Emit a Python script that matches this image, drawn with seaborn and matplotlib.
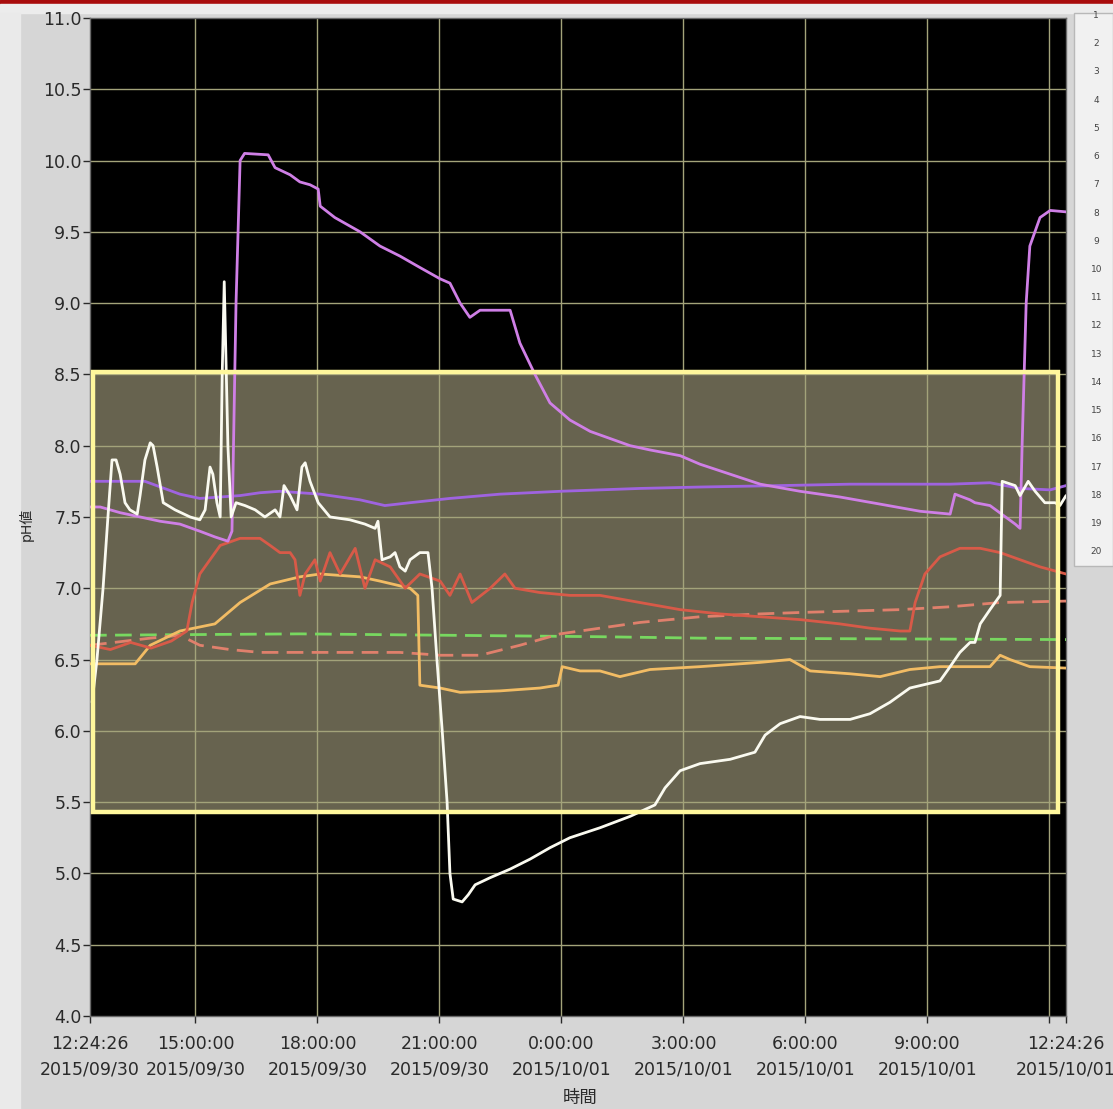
import pandas as pd
import numpy as np
import seaborn as sns
import matplotlib.pyplot as plt
import matplotlib.dates as mdates
from matplotlib.patches import Rectangle

sns.set_theme(style="ticks")
plt.rcParams['font.family'] = ['DejaVu Sans', 'Noto Sans CJK JP']

# Start of the recording, everything else is hours elapsed since then
start = pd.Timestamp("2015-09-30 12:24:26")

# Light violet probe (jumps to ~10)
lilac_h = [0, 0.25, 0.74, 1.23, 1.72, 2.21, 2.70, 3.07, 3.39, 3.49, 3.59, 3.69, 3.80, 4.38, 4.55, 4.92,
           5.16, 5.41, 5.61, 5.66, 6.02, 6.64, 7.13, 7.62, 8.11, 8.61, 8.85, 9.10, 9.34, 9.59, 10.33, 10.57,
           10.94, 11.31, 11.80, 12.30, 12.79, 13.28, 13.77, 14.51, 15.00, 15.74, 16.48, 17.46, 18.44, 19.43,
           20.41, 21.15, 21.27, 21.64, 21.76, 22.13, 22.75, 22.87, 22.92, 23.02, 23.11, 23.36, 23.61, 24.0]
lilac_ph = [7.57, 7.57, 7.53, 7.50, 7.47, 7.45, 7.40, 7.36, 7.33, 7.40, 9.00, 10.00, 10.05, 10.04, 9.95, 9.90,
            9.85, 9.83, 9.80, 9.68, 9.60, 9.50, 9.40, 9.33, 9.25, 9.17, 9.14, 9.00, 8.90, 8.95, 8.95, 8.72,
            8.50, 8.30, 8.18, 8.10, 8.05, 8.00, 7.97, 7.93, 7.87, 7.80, 7.73, 7.68, 7.64, 7.59,
            7.54, 7.52, 7.66, 7.62, 7.60, 7.58, 7.45, 7.42, 8.00, 9.00, 9.40, 9.60, 9.65, 9.64]

# Violet probe (flat around 7.7)
violet_h = [0, 1.35, 2.21, 2.70, 3.69, 4.18, 4.67, 5.66, 6.64, 7.25, 7.87, 8.85, 10.08, 11.56, 13.52,
            15.00, 16.97, 18.69, 21.15, 22.13, 22.87, 23.61, 24.0]
violet_ph = [7.75, 7.75, 7.66, 7.63, 7.65, 7.67, 7.68, 7.66, 7.62, 7.58, 7.60, 7.63, 7.66, 7.68, 7.70,
             7.71, 7.72, 7.73, 7.73, 7.74, 7.70, 7.69, 7.72]

# White probe
white_h = [0.05, 0.17, 0.32, 0.44, 0.54, 0.64, 0.74, 0.86, 0.98, 1.16, 1.23, 1.35, 1.48, 1.55, 1.65, 1.80,
           2.09, 2.46, 2.70, 2.83, 2.95, 3.02, 3.12, 3.20, 3.25, 3.30, 3.39, 3.47, 3.59, 3.81, 4.06, 4.30,
           4.55, 4.67, 4.77, 4.92, 5.09, 5.21, 5.29, 5.41, 5.61, 5.90, 6.39, 6.76, 7.01, 7.08, 7.18, 7.38,
           7.50, 7.62, 7.75, 7.87, 8.11, 8.31, 8.41, 8.53, 8.66, 8.78, 8.85, 8.93, 9.15, 9.30, 9.47, 9.84,
           10.33, 10.82, 11.31, 11.80, 12.54, 13.28, 13.89, 14.14, 14.51, 15.00, 15.74, 16.35, 16.60, 16.97,
           17.46, 17.95, 18.69, 19.18, 19.67, 20.16, 20.90, 21.15, 21.39, 21.64, 21.76, 21.89, 22.13, 22.38,
           22.43, 22.75, 22.87, 23.07, 23.24, 23.48, 23.73, 23.85, 24.0]
white_ph = [6.20, 6.50, 7.00, 7.50, 7.90, 7.90, 7.80, 7.60, 7.55, 7.52, 7.65, 7.90, 8.02, 8.00, 7.85, 7.60,
            7.55, 7.50, 7.48, 7.55, 7.85, 7.80, 7.60, 7.50, 8.50, 9.15, 8.00, 7.50, 7.60, 7.58, 7.55, 7.50,
            7.55, 7.50, 7.72, 7.65, 7.55, 7.85, 7.88, 7.75, 7.60, 7.50, 7.48, 7.45, 7.42, 7.47, 7.20, 7.22,
            7.25, 7.15, 7.12, 7.20, 7.25, 7.25, 7.00, 6.50, 6.00, 5.50, 5.00, 4.82, 4.80, 4.85, 4.92, 4.97,
            5.03, 5.10, 5.18, 5.25, 5.32, 5.40, 5.48, 5.60, 5.72, 5.77, 5.80, 5.85, 5.97, 6.05,
            6.10, 6.08, 6.08, 6.12, 6.20, 6.30, 6.35, 6.45, 6.55, 6.62, 6.62, 6.75, 6.85, 6.95,
            7.75, 7.72, 7.65, 7.75, 7.68, 7.60, 7.60, 7.58, 7.65]

# Red probe
red_h = [0, 0.5, 1.0, 1.5, 2.0, 2.38, 2.51, 2.70, 2.95, 3.20, 3.69, 4.18, 4.43, 4.67, 4.92, 5.04, 5.16,
         5.29, 5.53, 5.66, 5.90, 6.15, 6.52, 6.76, 7.01, 7.38, 7.75, 8.11, 8.61, 8.85, 9.10, 9.39, 9.84,
         10.20, 10.45, 11.06, 11.80, 12.54, 13.52, 14.51, 15.49, 16.48, 17.46, 18.44, 19.18, 19.92, 20.16,
         20.29, 20.53, 20.90, 21.39, 21.89, 22.38, 22.87, 23.36, 24.0]
red_ph = [6.60, 6.57, 6.62, 6.58, 6.63, 6.70, 6.90, 7.10, 7.20, 7.30, 7.35, 7.35, 7.30, 7.25, 7.25, 7.20, 6.95,
          7.10, 7.20, 7.05, 7.25, 7.10, 7.28, 7.00, 7.20, 7.15, 7.00, 7.10, 7.05, 6.95, 7.10, 6.90, 7.00,
          7.10, 7.00, 6.97, 6.95, 6.95, 6.90, 6.85, 6.82, 6.80, 6.78, 6.75, 6.72, 6.70, 6.70,
          6.90, 7.10, 7.22, 7.28, 7.28, 7.25, 7.20, 7.15, 7.10]

# Salmon probe (dashed)
salmon_h = [0, 1.48, 2.21, 2.70, 3.44, 4.18, 5.66, 7.62, 8.61, 9.59, 10.57, 11.56, 12.54, 13.52, 15.00,
            16.48, 17.46, 19.92, 21.15, 22.38, 24.0]
salmon_ph = [6.60, 6.65, 6.67, 6.60, 6.57, 6.55, 6.55, 6.55, 6.53, 6.53, 6.60, 6.68, 6.72, 6.76, 6.80,
             6.82, 6.83, 6.85, 6.87, 6.90, 6.91]

# Green probe (dashed)
green_h = [0, 5.16, 12.54, 15.00, 24.0]
green_ph = [6.67, 6.68, 6.66, 6.65, 6.64]

# Orange probe
orange_h = [0, 1.11, 1.48, 2.21, 3.07, 3.69, 4.43, 5.16, 5.66, 6.64, 7.13, 7.87, 8.06, 8.11, 8.61, 9.10,
            10.08, 11.06, 11.51, 11.61, 12.05, 12.54, 13.03, 13.77, 15.00, 16.48, 17.21, 17.71, 18.69,
            19.43, 20.16, 20.90, 22.13, 22.38, 22.62, 23.11, 24.0]
orange_ph = [6.47, 6.47, 6.60, 6.70, 6.75, 6.90, 7.03, 7.08, 7.10, 7.08, 7.05, 7.00, 6.95, 6.32, 6.30, 6.27,
             6.28, 6.30, 6.32, 6.45, 6.42, 6.42, 6.38, 6.43, 6.45, 6.48, 6.50, 6.42, 6.40,
             6.38, 6.43, 6.45, 6.45, 6.53, 6.50, 6.45, 6.44]

series = [
    (green_h, green_ph, "#78d860", (0, (6, 3))),
    (salmon_h, salmon_ph, "#e0806c", (0, (6, 3))),
    (orange_h, orange_ph, "#f2bc64", "-"),
    (red_h, red_ph, "#d85a48", "-"),
    (violet_h, violet_ph, "#9f63e0", "-"),
    (lilac_h, lilac_ph, "#cf7fe6", "-"),
    (white_h, white_ph, "#fafaf0", "-"),
]

# Highlighted band (yellow box)
box_h = (0.07, 23.80)
box_ph = (5.43, 8.52)

fig = plt.figure(figsize=(11.13, 11.09), dpi=100, facecolor="#d6d6d6")
ax = fig.add_axes([0.0809, 0.0839, 0.8769, 0.8999])
ax.set_facecolor("black")

# window decoration: red title strip, light left strip, channel list panel
deco = dict(transform=fig.transFigure, zorder=-1)
fig.patches.append(Rectangle((0, 0.996), 1, 0.004, color="#a80c0c", **deco))
fig.patches.append(Rectangle((0, 0.988), 1, 0.008, color="#ececec", **deco))
fig.patches.append(Rectangle((0, 0), 0.018, 0.988, color="#eaeaea", **deco))
fig.patches.append(Rectangle((0.965, 0.49), 0.035, 0.498, facecolor="#f1f1f1",
                             edgecolor="#b8b8b8", lw=1, **deco))
for i in range(20):
    fig.text(0.985, 0.986 - i * 0.02545, str(i + 1), fontsize=6.5, color="#444444",
             ha="center", va="center")

for h, ph, col, ls in series:
    t = start + pd.to_timedelta(h, unit="h")
    sns.lineplot(x=t, y=ph, color=col, linestyle=ls, linewidth=2.0, ax=ax, zorder=3)

x0 = mdates.date2num(start + pd.Timedelta(hours=box_h[0]))
x1 = mdates.date2num(start + pd.Timedelta(hours=box_h[1]))
ax.add_patch(Rectangle((x0, box_ph[0]), x1 - x0, box_ph[1] - box_ph[0],
                       facecolor="#67634f", edgecolor="none", zorder=0.2))
ax.add_patch(Rectangle((x0, box_ph[0]), x1 - x0, box_ph[1] - box_ph[0],
                       facecolor="none", edgecolor="#fff79c", lw=3.2, zorder=4))

# axes
end = start + pd.Timedelta(hours=24)
ax.set_xlim(mdates.date2num(start), mdates.date2num(end))
ax.set_ylim(4.0, 11.0)

grid_times = [start.ceil("3h") + pd.Timedelta(hours=3 * k) for k in range(8)]
tick_times = [start] + grid_times + [end]
labels = []
for tt in tick_times:
    if tt.hour == 12 and tt.minute == 0:
        labels.append("")
    else:
        labels.append(f"{tt.hour}:{tt.minute:02d}:{tt.second:02d}\n{tt:%Y/%m/%d}")
ax.set_xticks([mdates.date2num(tt) for tt in tick_times])
ax.set_xticklabels(labels, linespacing=1.5)
ax.set_yticks(np.arange(4.0, 11.01, 0.5))
ax.set_yticklabels([f"{v:.1f}" for v in np.arange(4.0, 11.01, 0.5)])

for g in grid_times:
    ax.axvline(mdates.date2num(g), color="#a3a37a", lw=1, zorder=0.5)
for v in np.arange(4.5, 11.0, 0.5):
    ax.axhline(v, color="#a3a37a", lw=1, zorder=0.5)

ax.tick_params(axis="both", labelsize=12.5, colors="#2a2a2a", direction="out", length=5, width=1)
ax.tick_params(axis="x", pad=9)
ax.tick_params(axis="y", pad=1)
for s in ax.spines.values():
    s.set_color("#6a6a6a")
    s.set_linewidth(1)

ax.set_xlabel("")
ax.set_ylabel("")
fig.text(0.521, 0.002, "時間", fontsize=12.5, color="#2a2a2a", ha="center", va="bottom")
fig.text(0.024, 0.527, "pH値", fontsize=10, color="#2a2a2a", ha="center", va="center", rotation=90)

fig.savefig("out.png", dpi=100, facecolor=fig.get_facecolor())
